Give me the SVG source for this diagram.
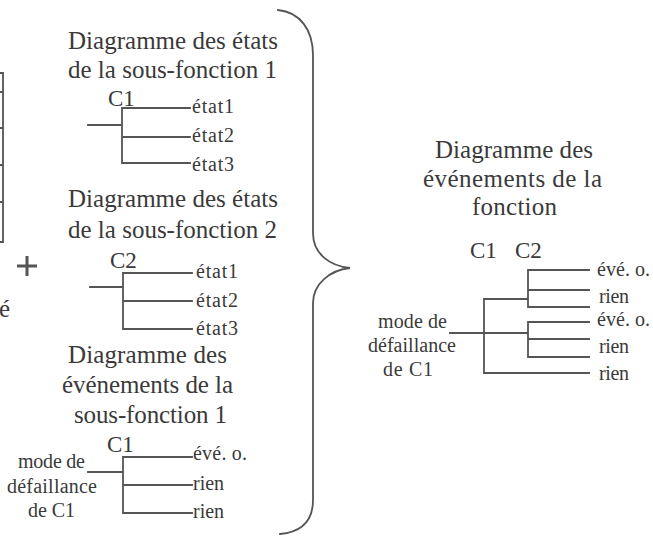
<svg xmlns="http://www.w3.org/2000/svg" width="653" height="538" viewBox="0 0 653 538">
<style>
.t{font-size:25px}
.c{font-size:23px}
.l{font-size:20px}
.m{font-size:20px}
.ln{stroke:#555;stroke-width:1.8;fill:none;stroke-linecap:square}
</style>
<rect width="653" height="538" fill="#fff"/>
<g style="font-family:'Liberation Serif',serif" fill="#3a3a3a">
<g id="left-box">
<path class="ln" d="M0,73 H3 V242 H0 M0,92 H3 M0,128 H3 M0,165 H3 M0,202 H3"/>
<text class="t" x="-1" y="317">é</text>
</g>
<g id="plus"><path d="M17,266 H37 M27,256 V276" stroke="#555" stroke-width="3" fill="none"/></g>
<g id="brace"><path class="ln" stroke-width="2.2" d="M278,10 C300,12 313,30 313,55 V233 C313,254 330,266 350,268 C330,270 313,284 313,303 V500 C313,520 302,532 280,534"/></g>

<g id="node-etats-sf1">
<text class="t" x="68" y="49" textLength="210" lengthAdjust="spacing">Diagramme des états</text>
<text class="t" x="68" y="78" textLength="209" lengthAdjust="spacing">de la sous-fonction 1</text>
<text class="c" x="108" y="106">C1</text>
<text class="l" x="192" y="113" textLength="42" lengthAdjust="spacing">état1</text>
<text class="l" x="192" y="142" textLength="42" lengthAdjust="spacing">état2</text>
<text class="l" x="192" y="171" textLength="42" lengthAdjust="spacing">état3</text>
</g>
<g id="node-etats-sf2">
<text class="t" x="68" y="207" textLength="210" lengthAdjust="spacing">Diagramme des états</text>
<text class="t" x="68" y="238" textLength="209" lengthAdjust="spacing">de la sous-fonction 2</text>
<text class="c" x="110" y="268">C2</text>
<text class="l" x="196" y="278" textLength="42" lengthAdjust="spacing">état1</text>
<text class="l" x="196" y="307" textLength="42" lengthAdjust="spacing">état2</text>
<text class="l" x="196" y="335" textLength="42" lengthAdjust="spacing">état3</text>
</g>
<g id="node-evenements-sf1">
<text class="t" x="68" y="363" textLength="159" lengthAdjust="spacing">Diagramme des</text>
<text class="t" x="62" y="393" textLength="171" lengthAdjust="spacing">événements de la</text>
<text class="t" x="74" y="423" textLength="153" lengthAdjust="spacing">sous-fonction 1</text>
<text class="c" x="107" y="452">C1</text>
<text class="m" x="18" y="468" textLength="67" lengthAdjust="spacing">mode de</text>
<text class="m" x="7" y="493" textLength="90" lengthAdjust="spacing">défaillance</text>
<text class="m" x="28" y="517" textLength="47" lengthAdjust="spacing">de C1</text>
<text class="l" x="193" y="460" textLength="54" lengthAdjust="spacing">évé. o.</text>
<text class="l" x="193" y="490" textLength="31" lengthAdjust="spacing">rien</text>
<text class="l" x="193" y="518" textLength="31" lengthAdjust="spacing">rien</text>
</g>
<g id="node-evenements-fonction">
<text class="t" x="435" y="158" textLength="158" lengthAdjust="spacing">Diagramme des</text>
<text class="t" x="423" y="187" textLength="179" lengthAdjust="spacing">événements de la</text>
<text class="t" x="472" y="215" textLength="85" lengthAdjust="spacing">fonction</text>
<text class="c" x="470" y="258">C1</text>
<text class="c" x="515" y="258">C2</text>
<text class="m" x="378" y="328" textLength="69" lengthAdjust="spacing">mode de</text>
<text class="m" x="368" y="352" textLength="88" lengthAdjust="spacing">défaillance</text>
<text class="m" x="383" y="376" textLength="50" lengthAdjust="spacing">de C1</text>
<text class="l" x="597" y="276" textLength="53" lengthAdjust="spacing">évé. o.</text>
<text class="l" x="599" y="303" textLength="30" lengthAdjust="spacing">rien</text>
<text class="l" x="597" y="326" textLength="53" lengthAdjust="spacing">évé. o.</text>
<text class="l" x="599" y="353" textLength="30" lengthAdjust="spacing">rien</text>
<text class="l" x="599" y="380" textLength="30" lengthAdjust="spacing">rien</text>
</g>
</g>
<g id="connectors">
<path class="ln" d="M88,125 H122 M122,108 V163 M122,108 H190 M122,137 H190 M122,163 H190"/>
<path class="ln" d="M90,287 H123 M123,273 V329 M123,273 H192 M123,301 H192 M123,329 H192"/>
<path class="ln" d="M88,472 H123 M123,457 V513 M123,457 H192 M123,485 H192 M123,513 H192"/>
<path class="ln" d="M450,333 H528 M484,299 V373 M484,299 H528 M528,270 V307 M528,270 H589 M528,290 H589 M528,307 H589 M528,322 V357 M528,322 H589 M528,339 H589 M528,357 H589 M484,373 H589"/>
</g>
</svg>
